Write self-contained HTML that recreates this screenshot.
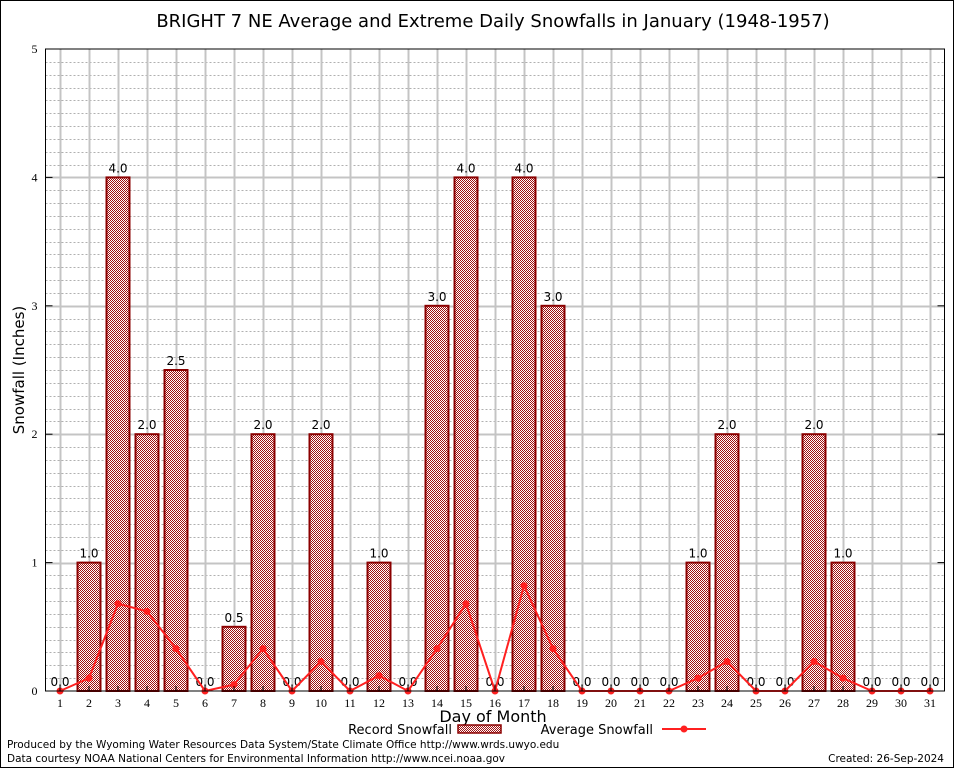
<!DOCTYPE html>
<html><head><meta charset="utf-8"><style>
body{margin:0;background:#fff}
svg{display:block;font-family:"DejaVu Sans","Liberation Sans",sans-serif}
</style></head><body>
<svg id="chart" width="954" height="768" viewBox="0 0 954 768">
<defs>
<pattern id="chk" width="2" height="2" patternUnits="userSpaceOnUse">
<rect width="2" height="2" fill="#fff"/><rect width="1" height="1" fill="#a01010"/><rect x="1" y="1" width="1" height="1" fill="#a01010"/>
</pattern>
</defs>
<rect x="0.5" y="0.5" width="953" height="767" fill="#fff" stroke="#000"/>
<text x="493" y="27" font-size="18" text-anchor="middle">BRIGHT 7 NE Average and Extreme Daily Snowfalls in January (1948-1957)</text>
<g id="grid"></g>
<g id="bars"></g>
<g id="line"></g>
<g id="axes"></g>
<text x="24" y="370" font-size="15" text-anchor="middle" transform="rotate(-90 24 370)">Snowfall (Inches)</text>
<text x="493" y="722" font-size="16" text-anchor="middle">Day of Month</text>
<g>
<text x="452" y="734" font-size="13" text-anchor="end">Record Snowfall</text>
<rect x="458" y="725" width="43" height="8" fill="url(#chk)" stroke="#8b0000" stroke-width="1.5"/>
<text x="653" y="734" font-size="13" text-anchor="end">Average Snowfall</text>
<line x1="662" y1="729" x2="706" y2="729" stroke="#ff2020" stroke-width="2"/>
<circle cx="684" cy="729" r="3.5" fill="#ff2020"/>
</g>
<text x="7" y="748" font-size="10.5">Produced by the Wyoming Water Resources Data System/State Climate Office http://www.wrds.uwyo.edu</text>
<text x="7" y="762" font-size="10.5">Data courtesy NOAA National Centers for Environmental Information http://www.ncei.noaa.gov</text>
<text x="944" y="762" font-size="10.5" text-anchor="end">Created:  26-Sep-2024</text>
</svg>
<script>
const days=[1,2,3,4,5,6,7,8,9,10,11,12,13,14,15,16,17,18,19,20,21,22,23,24,25,26,27,28,29,30,31];
const recordSnow=[0,1,4,2,2.5,0,0.5,2,0,2,0,1,0,3,4,0,4,3,0,0,0,0,1,2,0,0,2,1,0,0,0];
const avgSnow=[0,0.1,0.68,0.62,0.33,0,0.05,0.33,0,0.23,0,0.12,0,0.33,0.68,0,0.82,0.33,0,0,0,0,0.1,0.23,0,0,0.23,0.1,0,0,0];
const yTicks=[0,1,2,3,4,5];
const NS="http://www.w3.org/2000/svg";
const L=45.5,R=944.5,T=49,B=691,yMax=5;
const xs=d=>L+(d-0.5)*(R-L)/31;
const ys=v=>B-v*(B-T)/yMax;
function mk(tag,at,parent){const e=document.createElementNS(NS,tag);for(const k in at)e.setAttribute(k,at[k]);parent.appendChild(e);return e;}
const grid=document.getElementById('grid'),bars=document.getElementById('bars'),line=document.getElementById('line'),axes=document.getElementById('axes');
for(let i=1;i<yMax*10;i++){if(i%10===0)continue;const y=Math.round(ys(i/10))+0.5;
const g=mk('line',{x1:L,x2:R,y1:y,y2:y,stroke:'#b0b0b0','stroke-dasharray':'2,2'},grid);

}
days.forEach(d=>{const x=Math.round(xs(d))+0.5;const g=mk('line',{x1:x,x2:x,y1:T,y2:B,stroke:'#c4c4c4','stroke-width':2},grid);

});
yTicks.forEach(v=>{if(v===0||v===yMax)return;const y=Math.round(ys(v))+0.5;const g=mk('line',{x1:L,x2:R,y1:y,y2:y,stroke:'#c4c4c4','stroke-width':2},grid);

});
days.forEach((d,i)=>{const v=recordSnow[i];const x=xs(d);
if(v>0){const r=mk('rect',{x:x-11.5,y:ys(v),width:23,height:B-ys(v),fill:'url(#chk)',stroke:'#8b0000','stroke-width':2},bars);

}
const t=mk('text',{x:x,y:ys(v)-5,'font-size':12,'text-anchor':'middle'},bars);t.textContent=v.toFixed(1);

});
const pl=mk('polyline',{points:days.map((d,i)=>xs(d)+','+ys(avgSnow[i])).join(' '),fill:'none',stroke:'#ff2020','stroke-width':2},line);


days.forEach((d,i)=>{const c=mk('circle',{cx:xs(d),cy:ys(avgSnow[i]),r:3.5,fill:'#ff2020'},line);

});
const fr=mk('rect',{x:L,y:T,width:R-L,height:B-T,fill:'none',stroke:'#000'},axes);


yTicks.forEach(v=>{const y=ys(v);const t=mk('text',{x:L-8,y:y+4,'font-size':12,'text-anchor':'end','font-family':'Liberation Serif, serif'},axes);t.textContent=v;


mk('line',{x1:L,x2:L+7,y1:y,y2:y,stroke:'#000'},axes);mk('line',{x1:R-7,x2:R,y1:y,y2:y,stroke:'#000'},axes);});
days.forEach(d=>{const x=xs(d);const t=mk('text',{x:x,y:B+16,'font-size':12,'text-anchor':'middle','font-family':'Liberation Serif, serif'},axes);t.textContent=d;


mk('line',{x1:x,x2:x,y1:B-5,y2:B,stroke:'#000'},axes);});
</script>
</body></html>
